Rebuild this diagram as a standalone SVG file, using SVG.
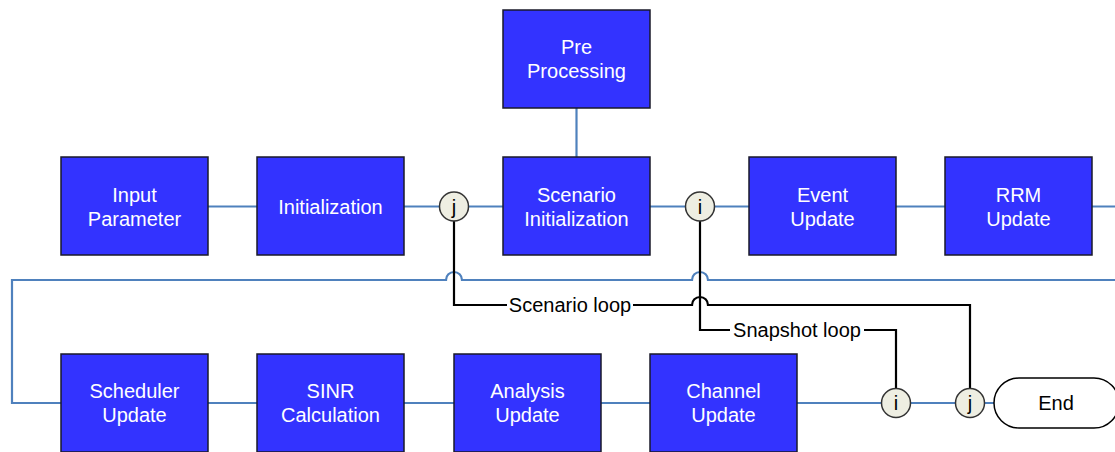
<svg xmlns="http://www.w3.org/2000/svg" width="1115" height="452" viewBox="0 0 1115 452">
<style>
.box{fill:#3333ff;stroke:#1a1a2a;stroke-width:1.5}
.bt{fill:#ffffff;font-family:"Liberation Sans",Arial,sans-serif;font-size:20px;text-anchor:middle}
.blue{fill:none;stroke:#4f81bd;stroke-width:2.2}
.blk{fill:none;stroke:#000;stroke-width:2.2}
.lbl{fill:#000;font-family:"Liberation Sans",Arial,sans-serif;font-size:20px;text-anchor:middle}
.jn{fill:#eeeee2;stroke:#333;stroke-width:1.5}
.jt{fill:#000;font-family:"Liberation Sans",Arial,sans-serif;font-size:20px;text-anchor:middle}
</style>
<rect width="1115" height="452" fill="#fff"/>
<g id="connectors">
<path class="blue" d="M576.5,108 V157"/>
<path class="blue" d="M208,206.5 H257 M404,206.5 H503 M650,206.5 H749 M896,206.5 H945"/>
<path class="blue" d="M1092,206.5 H1120 V280 H708 A8,8 0 0 0 692,280 H462 A8,8 0 0 0 446,280 H12 V403 H61"/>
<path class="blue" d="M208,403 H257 M404,403 H454 M601,403 H650 M797,403 H994"/>
<path class="blk" d="M454,206.5 V305 H507 M633,305 H692 A8,8 0 0 1 708,305 H970 V403"/>
<path class="blk" d="M700,206.5 V330 H730 M864,330 H896 V403"/>
<text class="lbl" x="570" y="312">Scenario loop</text>
<text class="lbl" x="797" y="337">Snapshot loop</text>
</g>
<g id="pre-processing"><rect class="box" x="503" y="10" width="147" height="98"/><text class="bt" x="576.5" y="54">Pre</text><text class="bt" x="576.5" y="78">Processing</text></g>
<g id="input-parameter"><rect class="box" x="61" y="157" width="147" height="98"/><text class="bt" x="134.5" y="201.5">Input</text><text class="bt" x="134.5" y="225.5">Parameter</text></g>
<g id="initialization"><rect class="box" x="257" y="157" width="147" height="98"/><text class="bt" x="330.5" y="213.5">Initialization</text></g>
<g id="scenario-initialization"><rect class="box" x="503" y="157" width="147" height="98"/><text class="bt" x="576.5" y="201.5">Scenario</text><text class="bt" x="576.5" y="225.5">Initialization</text></g>
<g id="event-update"><rect class="box" x="749" y="157" width="147" height="98"/><text class="bt" x="822.5" y="201.5">Event</text><text class="bt" x="822.5" y="225.5">Update</text></g>
<g id="rrm-update"><rect class="box" x="945" y="157" width="147" height="98"/><text class="bt" x="1018.5" y="201.5">RRM</text><text class="bt" x="1018.5" y="225.5">Update</text></g>
<g id="scheduler-update"><rect class="box" x="61" y="354" width="147" height="98"/><text class="bt" x="134.5" y="397.5">Scheduler</text><text class="bt" x="134.5" y="421.5">Update</text></g>
<g id="sinr-calculation"><rect class="box" x="257" y="354" width="147" height="98"/><text class="bt" x="330.5" y="397.5">SINR</text><text class="bt" x="330.5" y="421.5">Calculation</text></g>
<g id="analysis-update"><rect class="box" x="454" y="354" width="147" height="98"/><text class="bt" x="527.5" y="397.5">Analysis</text><text class="bt" x="527.5" y="421.5">Update</text></g>
<g id="channel-update"><rect class="box" x="650" y="354" width="147" height="98"/><text class="bt" x="723.5" y="397.5">Channel</text><text class="bt" x="723.5" y="421.5">Update</text></g>
<g id="j-top"><circle class="jn" cx="454" cy="206.5" r="14.5"/><text class="jt" x="454" y="213.5">j</text></g>
<g id="i-top"><circle class="jn" cx="700" cy="206.5" r="14.5"/><text class="jt" x="700" y="213.5">i</text></g>
<g id="i-bottom"><circle class="jn" cx="896" cy="403" r="14.5"/><text class="jt" x="896" y="410">i</text></g>
<g id="j-bottom"><circle class="jn" cx="970" cy="403" r="14.5"/><text class="jt" x="970" y="410">j</text></g>
<g id="end"><rect x="994" y="378" width="125" height="50" rx="25" ry="25" fill="#fff" stroke="#000" stroke-width="1.5"/><text class="lbl" x="1056" y="410">End</text></g>
</svg>
